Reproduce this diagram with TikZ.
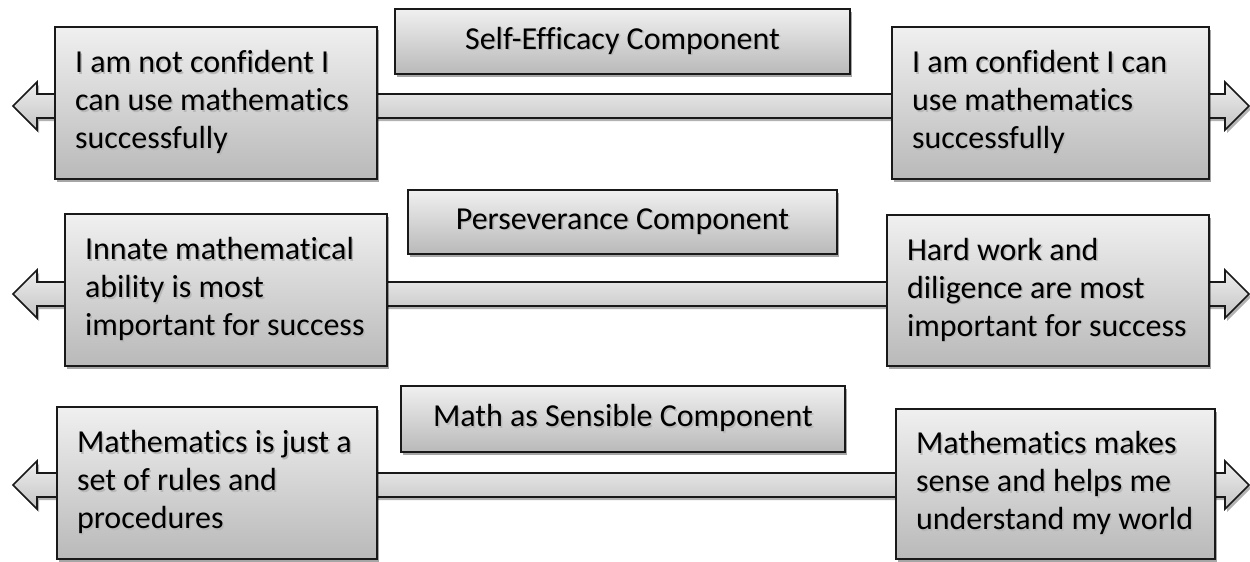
\documentclass[tikz,border=0pt]{standalone}
\usepackage{fontspec}
\setmainfont{Carlito}[Ligatures=NoCommon]
\usetikzlibrary{shadows,calc,backgrounds}
\definecolor{boxtop}{HTML}{F0F0F0}
\definecolor{boxbot}{HTML}{B9B9B9}
\definecolor{shafttop}{HTML}{EEEEEE}
\definecolor{shaftbot}{HTML}{C4C4C4}
\newcommand\shtxt[1]{\makebox[0pt][l]{\hspace{1.6pt}\raisebox{-1.6pt}{\textcolor{black!28}{#1}}}#1}
\newcommand\blockarrow[2]{%
  \path[barrow] (#1) -- ++(24,-24) -- ++(0,12) -- ($(#2)+(-24,-12)$) -- ++(0,-12)
    -- (#2) -- ++(-24,24) -- ++(0,-12) -- ($(#1)+(24,12)$) -- ++(0,12) -- cycle;}
\begin{document}
\begin{tikzpicture}[x=1pt,y=-1pt,
  card/.style={draw=black!90, line width=1.6pt, top color=boxtop, bottom color=boxbot,
    drop shadow={shadow xshift=2pt, shadow yshift=-3pt, opacity=0.35, fill=black},
    inner ysep=0pt, font=\fontsize{32}{38}\selectfont},
  sidebox/.style={card, inner xsep=20pt, align=flush left},
  titlebox/.style={card, inner xsep=0pt, align=center},
  barrow/.style={draw=black!90, line width=1.6pt, top color=shafttop, bottom color=shaftbot,
    drop shadow={shadow xshift=2pt, shadow yshift=-3pt, opacity=0.3, fill=black}}]
\useasboundingbox (0,0) rectangle (1250,562);

% Row 1
\node[sidebox, text width=282pt, minimum height=152pt] (l1) at (216,103)
  {\shtxt{I am not confident I}\\\shtxt{can use mathematics}\\\shtxt{successfully}};
\node[titlebox, minimum width=455pt, minimum height=65pt] (t1) at (622.5,41.5)
  {\shtxt{Self-Efficacy Component}};
\node[sidebox, text width=277pt, minimum height=152pt] (r1) at (1050.5,103)
  {\shtxt{I am confident I can}\\\shtxt{use mathematics}\\\shtxt{successfully}};

% Row 2
\node[sidebox, text width=282pt, minimum height=152pt] (l2) at (226,290)
  {\shtxt{Innate mathematical}\\\shtxt{ability is most}\\\shtxt{important for success}};
\node[titlebox, minimum width=429pt, minimum height=64pt] (t2) at (622.5,222)
  {\shtxt{Perseverance Component}};
\node[sidebox, text width=282pt, minimum height=151pt] (r2) at (1048,290.5)
  {\shtxt{Hard work and}\\\shtxt{diligence are most}\\\shtxt{important for success}};

% Row 3
\node[sidebox, text width=280pt, minimum height=152pt] (l3) at (217,483)
  {\shtxt{Mathematics is just a}\\\shtxt{set of rules and}\\\shtxt{procedures}};
\node[titlebox, minimum width=444pt, minimum height=66pt] (t3) at (623,419)
  {\shtxt{Math as Sensible Component}};
\node[sidebox, text width=279pt, minimum height=150pt] (r3) at (1055.5,484)
  {\shtxt{Mathematics makes}\\\shtxt{sense and helps me}\\\shtxt{understand my world}};

% Arrow ends
\coordinate (a1l) at (13,106);  \coordinate (a1r) at (1249,106);
\coordinate (a2l) at (13,294);  \coordinate (a2r) at (1249,294);
\coordinate (a3l) at (13,485);  \coordinate (a3r) at (1249,485);

\begin{scope}[on background layer]
  \blockarrow{a1l}{a1r}
  \blockarrow{a2l}{a2r}
  \blockarrow{a3l}{a3r}
\end{scope}
\end{tikzpicture}
\end{document}
